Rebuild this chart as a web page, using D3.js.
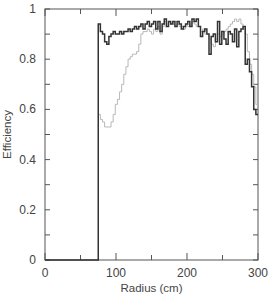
<!DOCTYPE html>
<html>
<head>
  <meta charset="utf-8">
  <script src="https://d3js.org/d3.v7.min.js"></script>
  <style>
    body { margin: 0; background: #fff; }
    text { font-family: "Liberation Sans", Arial, sans-serif; fill: #444; }
  </style>
</head>
<body>
<script>
  // bin edges: 3 cm bins from 75 to 300 cm
  var binStart = 75, binWidth = 3;
  var blackEff = [0.94,0.91,0.90,0.87,0.86,0.89,0.90,0.91,0.90,0.90,
                  0.91,0.90,0.91,0.91,0.92,0.91,0.92,0.93,0.92,0.93,
                  0.94,0.92,0.94,0.95,0.93,0.94,0.95,0.92,0.95,0.91,
                  0.94,0.96,0.93,0.95,0.94,0.95,0.93,0.95,0.94,0.92,
                  0.93,0.94,0.95,0.93,0.96,0.95,0.96,0.93,0.89,0.91,
                  0.92,0.90,0.82,0.89,0.90,0.87,0.95,0.86,0.91,0.88,
                  0.86,0.91,0.90,0.87,0.92,0.85,0.91,0.92,0.93,0.78,
                  0.80,0.75,0.69,0.60,0.58];
  var grayEff = [0.58,0.56,0.55,0.53,0.53,0.53,0.55,0.58,0.62,0.64,
                 0.67,0.70,0.74,0.77,0.80,0.81,0.82,0.82,0.83,0.86,
                 0.90,0.91,0.91,0.92,0.91,0.90,0.92,0.91,0.93,0.90,
                 0.93,0.95,0.94,0.95,0.94,0.94,0.93,0.94,0.93,0.93,
                 0.92,0.94,0.93,0.94,0.95,0.94,0.93,0.93,0.91,0.92,
                 0.90,0.90,0.88,0.86,0.85,0.88,0.90,0.89,0.90,0.91,
                 0.92,0.93,0.94,0.95,0.96,0.95,0.96,0.94,0.92,0.90,
                 0.83,0.78,0.74,0.69,0.62];
  var xTicks = [0, 100, 200, 300];
  var yTicks = [0, 0.2, 0.4, 0.6, 0.8, 1];

  var W = 268, H = 296;
  var margin = {left: 45, right: 10, top: 9, bottom: 36};

  var svg = d3.select("body").append("svg")
      .attr("width", W).attr("height", H);

  var x = d3.scaleLinear().domain([0, 300]).range([margin.left, W - margin.right]);
  var y = d3.scaleLinear().domain([0, 1]).range([H - margin.bottom, margin.top]);

  // turn bin values into step points, closing the last bin at 300
  function toSteps(vals) {
    var pts = vals.map(function(v, i) { return [binStart + i * binWidth, v]; });
    pts.push([300, vals[vals.length - 1]]);
    return pts;
  }

  var line = d3.line()
      .x(function(d) { return x(d[0]); })
      .y(function(d) { return y(d[1]); })
      .curve(d3.curveStepAfter);

  var axisColor = "#555";

  // frame
  svg.append("rect")
      .attr("x", x(0)).attr("y", y(1))
      .attr("width", x(300) - x(0)).attr("height", y(0) - y(1))
      .attr("fill", "none").attr("stroke", axisColor).attr("stroke-width", 1);

  // inner ticks on all four sides
  var g = svg.append("g").attr("stroke", axisColor).attr("stroke-width", 1);
  d3.range(0, 301, 50).forEach(function(v) {
    var len = (v % 100 === 0) ? 7 : 5;
    g.append("line").attr("x1", x(v)).attr("x2", x(v)).attr("y1", y(0)).attr("y2", y(0) - len);
    g.append("line").attr("x1", x(v)).attr("x2", x(v)).attr("y1", y(1)).attr("y2", y(1) + len);
  });
  d3.range(0, 11).forEach(function(k) {
    var v = k / 10, len = 5;
    g.append("line").attr("x1", x(0)).attr("x2", x(0) + len).attr("y1", y(v)).attr("y2", y(v));
    g.append("line").attr("x1", x(300)).attr("x2", x(300) - len).attr("y1", y(v)).attr("y2", y(v));
  });

  // tick labels
  svg.selectAll(".xl").data(xTicks).enter().append("text")
      .attr("x", function(d) { return x(d); })
      .attr("y", y(0) + 17)
      .attr("text-anchor", "middle")
      .style("font-size", "12px")
      .text(function(d) { return d; });
  svg.selectAll(".yl").data(yTicks).enter().append("text")
      .attr("x", x(0) - 9)
      .attr("y", function(d) { return y(d) + 4; })
      .attr("text-anchor", "end")
      .style("font-size", "12px")
      .text(function(d) { return d; });

  // axis titles
  svg.append("text")
      .attr("x", (x(0) + x(300)) / 2)
      .attr("y", H - 4)
      .attr("text-anchor", "middle")
      .style("font-size", "11.5px")
      .text("Radius (cm)");
  svg.append("text")
      .attr("transform", "translate(11," + ((y(0) + y(1)) / 2) + ") rotate(-90)")
      .attr("text-anchor", "middle")
      .style("font-size", "11.5px")
      .text("Efficiency");

  // gray series
  svg.append("path")
      .attr("d", line(toSteps(grayEff)))
      .attr("fill", "none").attr("stroke", "#b8b8b8").attr("stroke-width", 1);

  // black series, flat at zero below 75 cm
  svg.append("path")
      .attr("d", line([[0, 0]].concat(toSteps(blackEff))))
      .attr("fill", "none").attr("stroke", "#333").attr("stroke-width", 1.5);
</script>
</body>
</html>
